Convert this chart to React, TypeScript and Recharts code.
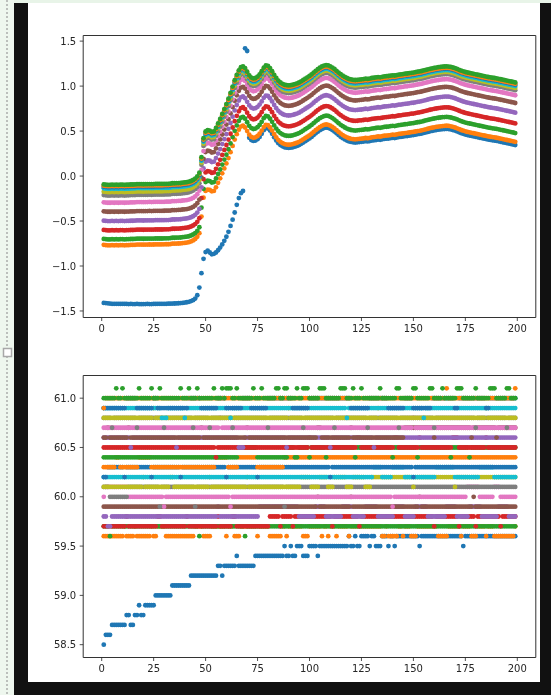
import React from 'react';
import { ScatterChart, Scatter, XAxis, YAxis, ReferenceArea } from 'recharts';

const PALETTE = ['#1f77b4', '#ff7f0e', '#2ca02c', '#d62728', '#9467bd', '#8c564b', '#e377c2', '#7f7f7f', '#bcbd22', '#17becf'];

const xTicks = [0, 25, 50, 75, 100, 125, 150, 175, 200];
const topYTicks = [-1.5, -1.0, -0.5, 0.0, 0.5, 1.0, 1.5];
const bottomYTicks = [58.5, 59.0, 59.5, 60.0, 60.5, 61.0];
const xDomain: [number, number] = [-8.9, 208.9];
const topYDomain: [number, number] = [-1.5725, 1.5625];
const bottomYDomain: [number, number] = [58.37, 61.23];

// ---- top panel: lowest bundle line (orange), x = 1..199
const topBase = [
  -0.765, -0.768, -0.770, -0.770, -0.768, -0.770, -0.768, -0.770, -0.768, -0.768,
  -0.770, -0.768, -0.768, -0.766, -0.766, -0.765, -0.762, -0.762, -0.762, -0.763,
  -0.762, -0.762, -0.761, -0.762, -0.761, -0.760, -0.760, -0.760, -0.760, -0.759,
  -0.758, -0.758, -0.757, -0.752, -0.752, -0.751, -0.750, -0.749, -0.745, -0.743,
  -0.740, -0.735, -0.727, -0.716, -0.700, -0.675, -0.635, -0.450, -0.240, -0.165,
  -0.150, -0.155, -0.170, -0.165, -0.125, -0.075, -0.025, 0.030, 0.085, 0.140,
  0.200, 0.265, 0.335, 0.405, 0.465, 0.515, 0.550, 0.560, 0.540, 0.500,
  0.460, 0.435, 0.425, 0.430, 0.445, 0.470, 0.505, 0.545, 0.570, 0.565,
  0.540, 0.505, 0.465, 0.430, 0.400, 0.380, 0.365, 0.355, 0.350, 0.348,
  0.350, 0.355, 0.362, 0.370, 0.380, 0.393, 0.408, 0.423, 0.438, 0.453,
  0.470, 0.490, 0.510, 0.528, 0.545, 0.558, 0.568, 0.573, 0.570, 0.560,
  0.546, 0.530, 0.510, 0.490, 0.472, 0.456, 0.442, 0.430, 0.420, 0.414,
  0.410, 0.408, 0.410, 0.413, 0.415, 0.418, 0.423, 0.420, 0.424, 0.430,
  0.433, 0.436, 0.440, 0.438, 0.443, 0.448, 0.450, 0.452, 0.456, 0.460,
  0.458, 0.463, 0.468, 0.470, 0.474, 0.478, 0.480, 0.484, 0.488, 0.490,
  0.495, 0.500, 0.503, 0.508, 0.514, 0.520, 0.526, 0.532, 0.537, 0.542,
  0.546, 0.550, 0.553, 0.556, 0.558, 0.559, 0.557, 0.553, 0.547, 0.540,
  0.531, 0.521, 0.512, 0.504, 0.497, 0.491, 0.486, 0.481, 0.476, 0.471,
  0.466, 0.461, 0.456, 0.451, 0.446, 0.441, 0.437, 0.433, 0.430, 0.426,
  0.421, 0.416, 0.411, 0.406, 0.401, 0.396, 0.391, 0.386, 0.380,
];

// blue outlier series, x = 1..70 (afterwards it runs just under the orange line)
const topBlueEarly = [
  -1.410, -1.412, -1.415, -1.418, -1.420, -1.420, -1.421, -1.420, -1.422, -1.421,
  -1.422, -1.422, -1.423, -1.422, -1.423, -1.423, -1.422, -1.423, -1.424, -1.423,
  -1.423, -1.422, -1.423, -1.423, -1.422, -1.422, -1.421, -1.421, -1.420, -1.420,
  -1.420, -1.419, -1.419, -1.418, -1.417, -1.416, -1.414, -1.412, -1.410, -1.407,
  -1.403, -1.398, -1.390, -1.380, -1.362, -1.325, -1.240, -1.080, -0.920, -0.845,
  -0.830, -0.850, -0.870, -0.865, -0.850, -0.825, -0.795, -0.760, -0.720, -0.675,
  -0.620, -0.555, -0.485, -0.405, -0.320, -0.245, -0.190, -0.165, 1.420, 1.390,
];

// gap of each series above the orange line, before (x<=47) and after the jump
const topGapBefore = [0, 0, 0.066, 0.166, 0.269, 0.373, 0.473, 0.554, 0.591, 0.628, 0.645, 0.658, 0.672];
const topGapAfter = [-0.035, 0, 0.098, 0.205, 0.325, 0.432, 0.518, 0.575, 0.600, 0.620, 0.635, 0.645, 0.660];

// ---- bottom panel: runs of [first x, value], each value holds until the next run
const b0 = [[1,58.5],[2,58.6],[5,58.7],[12,58.8],[14,58.7],[16,58.8],[18,58.9],[19,58.8],[21,58.9],[26,59.0],[34,59.1],[43,59.2],[56,59.3],[58,59.2],[59,59.3],[65,59.4],[66,59.3],[74,59.4],[88,59.5],[89,59.4],[91,59.5],[92,59.4],[94,59.5],[97,59.4],[100,59.5],[104,59.4],[105,59.5],[119,59.6],[120,59.5],[122,59.6],[123,59.5],[125,59.6],[129,59.5],[130,59.6],[132,59.5],[135,59.6],[138,59.5],[139,59.6],[141,59.5],[142,59.6],[153,59.5],[154,59.6],[174,59.5],[175,59.6]];
const b1 = [[1,59.6],[11,59.7],[12,59.6],[16,59.7],[17,59.6],[24,59.7],[25,59.6],[27,59.7],[31,59.6],[45,59.7],[49,59.6],[53,59.7],[60,59.6],[61,59.7],[64,59.6],[67,59.7],[75,59.6],[76,59.7],[81,59.6],[87,59.7],[89,59.6],[90,59.7],[97,59.6],[100,59.7],[106,59.6],[107,59.7],[109,59.6],[110,59.7],[113,59.6],[114,59.7],[119,59.6],[120,59.7],[135,59.6],[137,59.7],[138,59.6],[143,59.7],[145,59.6],[146,59.7],[149,59.6],[152,59.7],[162,59.6],[167,59.7],[173,59.6],[174,59.7],[178,59.6],[181,59.7],[185,59.6],[186,59.7],[189,59.6],[199,59.7]];
const b2 = [[1,59.7],[4,59.6],[5,59.7],[47,59.6],[48,59.7],[69,59.6],[70,59.7]];
const b3 = [[1,59.7],[12,59.8],[13,59.7],[27,59.8],[29,59.7],[41,59.8],[42,59.7],[56,59.8],[57,59.7],[63,59.8],[65,59.7],[81,59.8],[86,59.7],[87,59.8],[92,59.7],[93,59.8],[111,59.7],[112,59.8],[124,59.7],[125,59.8],[160,59.7],[161,59.8],[172,59.7],[173,59.8],[180,59.7],[181,59.8],[192,59.7],[193,59.8]];
const b4 = [[1,59.8],[3,59.7],[5,59.8],[56,59.9],[57,59.8],[76,59.9],[95,59.8],[103,59.9],[108,59.8],[116,59.9],[121,59.8],[127,59.9],[133,59.8],[141,59.9],[146,59.8],[151,59.9],[157,59.8],[166,59.9],[171,59.8],[177,59.9],[183,59.8],[191,59.9],[196,59.8]];
const b5 = [[1,59.9],[104,60.0],[105,59.9],[120,60.0],[121,59.9],[153,60.0],[154,59.9],[179,60.0],[180,59.9]];
const b6 = [[1,60.0],[2,60.1],[13,60.0],[30,59.9],[31,60.0],[62,59.9],[63,60.0],[140,59.9],[141,60.0],[176,60.1],[182,60.0],[189,60.1],[192,60.0]];
const b7 = [[1,60.1],[4,60.0],[13,60.1],[28,59.9],[29,60.1],[45,59.9],[46,60.1],[88,59.9],[89,60.1]];
const b8 = [[1,60.1],[20,60.2],[21,60.1],[33,60.2],[35,60.1],[52,60.2],[53,60.1],[70,60.2],[71,60.1],[96,60.2],[101,60.1],[105,60.2],[109,60.1],[112,60.2],[118,60.1],[121,60.2],[127,60.1],[130,60.2],[150,60.1],[151,60.2],[170,60.1],[171,60.2]];
const b9 = [[1,60.2],[131,60.3],[135,60.2],[140,60.3],[146,60.2],[161,60.3],[170,60.2],[182,60.3],[189,60.2]];
const b10 = [[1,60.2],[3,60.3],[11,60.2],[12,60.3],[24,60.2],[25,60.3],[38,60.2],[39,60.3],[60,60.2],[61,60.3],[75,60.2],[76,60.3],[110,60.2],[111,60.3],[150,60.2],[151,60.3]];
const b11 = [[1,60.3],[7,60.4],[9,60.3],[18,60.4],[24,60.3],[55,60.4],[61,60.3],[66,60.4],[75,60.3],[88,60.4]];
const b12 = [[1,60.4],[66,60.5],[75,60.4],[90,60.5],[93,60.4],[95,60.5],[100,60.4],[101,60.5],[108,60.4],[109,60.5],[122,60.4],[123,60.5],[140,60.4],[141,60.5],[152,60.4],[153,60.5],[168,60.4],[169,60.5],[177,60.4],[178,60.5]];
const b13 = [[1,60.5],[55,60.4],[56,60.5],[100,60.6],[101,60.5],[123,60.6],[125,60.5],[141,60.6],[143,60.5],[153,60.6],[154,60.5],[169,60.6],[172,60.5],[185,60.6],[186,60.5]];
const b14 = [[1,60.6],[14,60.5],[15,60.6],[36,60.5],[37,60.6],[66,60.5],[69,60.6],[89,60.5],[90,60.6],[110,60.5],[111,60.6],[131,60.5],[132,60.6]];
const b15 = [[1,60.6],[3,60.7],[4,60.6],[13,60.7],[14,60.6],[48,60.7],[49,60.6],[70,60.7],[71,60.6],[104,60.7],[106,60.6],[120,60.7],[121,60.6],[146,60.7],[160,60.6],[161,60.7],[178,60.6],[179,60.7],[190,60.6],[191,60.7]];
const b16 = [[1,60.7],[57,60.8],[58,60.7],[150,60.8],[151,60.7]];
const b17 = [[1,60.8],[5,60.7],[6,60.8],[17,60.7],[18,60.8],[30,60.7],[31,60.8],[44,60.7],[45,60.8],[52,60.7],[53,60.8],[63,60.7],[64,60.8],[80,60.7],[81,60.8],[97,60.7],[98,60.8],[112,60.7],[113,60.8],[128,60.7],[129,60.8],[143,60.7],[144,60.8],[160,60.7],[161,60.8],[180,60.7],[181,60.8],[195,60.7],[196,60.8]];
const b18 = [[1,60.8],[25,60.9],[26,60.8],[90,60.9],[91,60.8],[133,60.9],[134,60.8],[185,60.9],[186,60.8]];
const b19 = [[1,60.9],[29,60.8],[32,60.9],[40,60.8],[41,60.9],[62,60.8],[63,60.9],[118,60.8],[119,60.9],[155,60.8],[156,60.9]];
const b20 = [[1,60.9],[12,61.0],[17,60.9],[25,61.0],[27,60.9],[42,61.0],[48,60.9],[56,61.0],[60,60.9],[68,61.0],[72,60.9],[80,61.0],[92,60.9],[100,61.0],[120,60.9],[129,61.0],[138,60.9],[146,61.0],[150,60.9],[159,61.0],[170,60.9],[172,61.0],[185,60.9],[187,61.0]];
const b21 = [[1,60.9],[2,61.0],[166,61.1],[167,61.0],[199,61.1]];
const b22 = [[1,61.0],[7,61.1],[8,61.0],[10,61.1],[11,61.0],[18,61.1],[19,61.0],[24,61.1],[25,61.0],[28,61.1],[29,61.0],[38,61.1],[39,61.0],[42,61.1],[43,61.0],[46,61.1],[47,61.0],[54,61.1],[55,61.0],[58,61.1],[59,61.0],[60,61.1],[63,61.0],[65,61.1],[66,61.0],[73,61.1],[74,61.0],[77,61.1],[78,61.0],[84,61.1],[86,61.0],[88,61.1],[90,61.0],[94,61.1],[95,61.0],[97,61.1],[100,61.0],[105,61.1],[108,61.0],[115,61.1],[118,61.0],[121,61.1],[122,61.0],[125,61.1],[126,61.0],[134,61.1],[135,61.0],[142,61.1],[144,61.0],[150,61.1],[152,61.0],[158,61.1],[160,61.0],[164,61.1],[165,61.0],[171,61.1],[174,61.0],[180,61.1],[181,61.0],[187,61.1],[190,61.0],[195,61.1],[197,61.0]];
const bottomRuns = [b0, b1, b2, b3, b4, b5, b6, b7, b8, b9, b10, b11, b12, b13, b14, b15, b16, b17, b18, b19, b20, b21, b22];

const N_POINTS = topBase.length;

function buildTop(k: number) {
  const pts: { x: number; y: number }[] = [];
  for (let i = 0; i < N_POINTS; i++) {
    const x = i + 1;
    let y: number;
    if (k === 0 && i < topBlueEarly.length) y = topBlueEarly[i];
    else y = topBase[i] + (x <= 47 ? topGapBefore[k] : topGapAfter[k]);
    pts.push({ x, y });
  }
  return pts;
}

function buildRuns(runs: number[][]) {
  const pts: { x: number; y: number }[] = [];
  let r = 0;
  for (let x = 1; x <= N_POINTS; x++) {
    while (r + 1 < runs.length && runs[r + 1][0] <= x) r++;
    pts.push({ x, y: runs[r][1] });
  }
  return pts;
}

const topData = topGapAfter.map((_, k) => buildTop(k));
const bottomData = bottomRuns.map((r) => buildRuns(r));

const dot = (color: string) => (props: any) => {
  const { cx, cy } = props;
  if (cx == null || cy == null) return <g />;
  return <circle cx={cx} cy={cy} r={2.4} fill={color} />;
};

const tickStyle = { fontSize: 10, fill: '#262626', fontFamily: 'DejaVu Sans, sans-serif' };
const fmtTop = (v: number) => v.toFixed(1).replace('-', '\u2212');
const fmtBottom = (v: number) => v.toFixed(1);

function Panel({ data, yDomain, yTicks, fmt }: any) {
  return (
    <ScatterChart width={551} height={350} margin={{ top: 35.5, right: 15.2, bottom: 2.5, left: 38.2 }}>
      <XAxis
        type="number"
        dataKey="x"
        domain={xDomain}
        ticks={xTicks}
        allowDataOverflow
        interval={0}
        height={30}
        axisLine={false}
        tickLine={{ stroke: '#262626', strokeWidth: 0.8 }}
        tickSize={3.5}
        tickMargin={4}
        tick={tickStyle}
      />
      <YAxis
        type="number"
        dataKey="y"
        domain={yDomain}
        ticks={yTicks}
        allowDataOverflow
        interval={0}
        width={45}
        axisLine={false}
        tickLine={{ stroke: '#262626', strokeWidth: 0.8 }}
        tickSize={3.5}
        tickMargin={3.5}
        tick={tickStyle}
        tickFormatter={fmt}
      />
      {data.map((pts: any, k: number) => (
        <Scatter
          key={k}
          data={pts}
          isAnimationActive={false}
          fill={PALETTE[k % 10]}
          shape={dot(PALETTE[k % 10])}
        />
      ))}
      <ReferenceArea
        x1={xDomain[0]}
        x2={xDomain[1]}
        y1={yDomain[0]}
        y2={yDomain[1]}
        fill="none"
        fillOpacity={0}
        stroke="#333"
        strokeWidth={1}
        ifOverflow="visible"
      />
    </ScatterChart>
  );
}

export default function App() {
  return (
    <div style={{ position: 'absolute', left: 0, top: 0, width: 551, height: 695, background: '#ffffff', overflow: 'hidden' }}>
      <div style={{ position: 'absolute', left: 0, top: 0, filter: 'blur(0.35px)' }}>
        <Panel data={topData} yDomain={topYDomain} yTicks={topYTicks} fmt={fmtTop} />
      </div>
      <div style={{ position: 'absolute', left: 0, top: 340, filter: 'blur(0.35px)' }}>
        <Panel data={bottomData} yDomain={bottomYDomain} yTicks={bottomYTicks} fmt={fmtBottom} />
      </div>
      {/* page chrome around the figure */}
      <div style={{ position: 'absolute', left: 0, top: 0, width: 551, height: 3, background: '#e8f4e8' }} />
      <div style={{ position: 'absolute', left: 0, top: 0, width: 13.5, height: 695, background: '#eef7ee' }} />
      <svg style={{ position: 'absolute', left: 0, top: 0 }} width={14} height={695}>
        <line x1={7} y1={0} x2={7} y2={695} stroke="#9a9a9a" strokeWidth={1.2} strokeDasharray="2 2" />
        <rect x={3.5} y={348.5} width={8} height={8} fill="#fff" stroke="#a8a8a8" strokeWidth={1.5} />
      </svg>
      <div style={{ position: 'absolute', left: 13.5, top: 3, width: 14, height: 692, background: '#111111' }} />
      <div style={{ position: 'absolute', left: 540, top: 3, width: 11, height: 692, background: '#111111' }} />
      <div style={{ position: 'absolute', left: 13.5, top: 682, width: 538, height: 13, background: '#111111' }} />
    </div>
  );
}
